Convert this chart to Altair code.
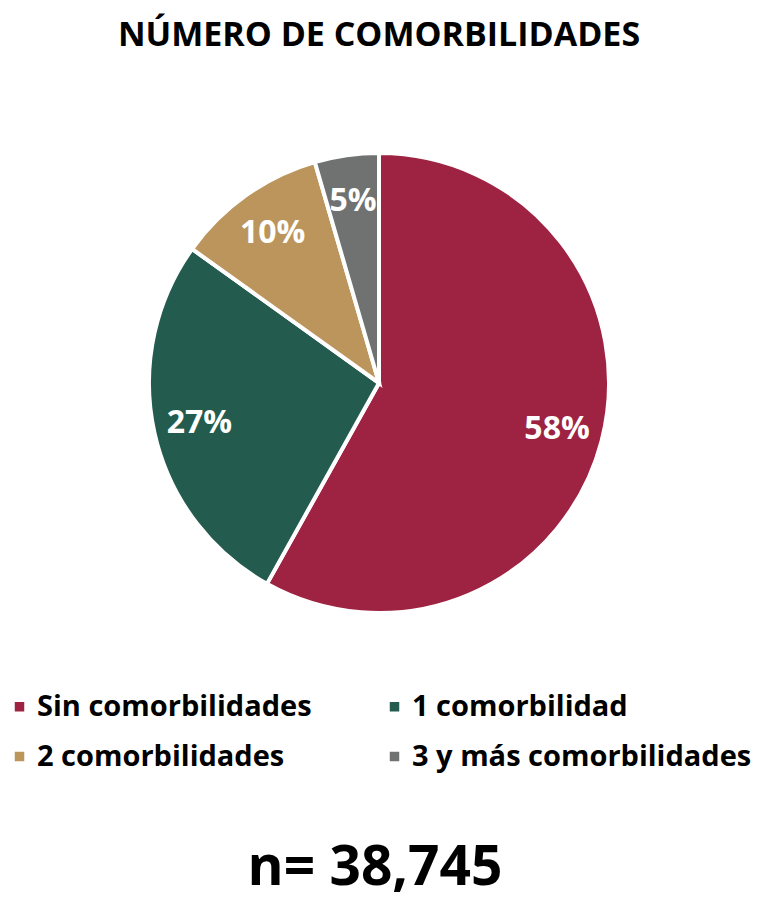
import altair as alt
import pandas as pd

categories = ["Sin comorbilidades", "1 comorbilidad", "2 comorbilidades", "3 y más comorbilidades"]
values = [58.1, 26.8, 10.6, 4.5]
labels = ["58%", "27%", "10%", "5%"]
colors = ["#9E2241", "#235B4E", "#BC955C", "#6F7271"]
order = [0, 1, 2, 3]
total_text = "n= 38,745"

df = pd.DataFrame({"cat": categories, "value": values, "label": labels, "idx": order})

FONT = "Open Sans"

base = alt.Chart(df).encode(
    theta=alt.Theta("value:Q", stack=True),
    order=alt.Order("idx:Q"),
)

color = alt.Color(
    "cat:N",
    scale=alt.Scale(domain=categories, range=colors),
    legend=alt.Legend(
        title=None,
        orient="none",
        direction="horizontal",
        legendX=-3,
        legendY=624,
        columns=2,
        symbolType="square",
        symbolSize=90,
        symbolStrokeWidth=0,
        labelFont=FONT,
        labelFontSize=29,
        labelFontWeight="bold",
        labelColor="#000000",
        labelLimit=500,
        rowPadding=20,
        columnPadding=68,
        labelOffset=3,
        padding=0,
    ),
)

arc = base.mark_arc(outerRadius=230, stroke="white", strokeWidth=4).encode(color=color)

text = base.mark_text(
    radius=184, font=FONT, fontSize=32, fontWeight="bold", color="white"
).encode(text="label:N")

footer = alt.Chart(pd.DataFrame({"t": [total_text]})).mark_text(
    font=FONT, fontSize=55, fontWeight="bold", color="#000000", baseline="alphabetic", align="center"
).encode(text="t:N", x=alt.value(367), y=alt.value(817))

chart = alt.layer(arc, text, footer).properties(
    width=742,
    height=630,
    padding={"left": 0, "top": 60, "right": 24, "bottom": 202},
    autosize=alt.AutoSizeParams(type="none"),
    title=alt.TitleParams(
        "NÚMERO DE COMORBILIDADES",
        font=FONT,
        fontSize=34,
        fontWeight="bold",
        color="#000000",
        anchor="middle",
        offset=15,
    ),
).configure_view(stroke=None)

chart.save("out.html", embed_options={"renderer": "svg", "actions": False})
